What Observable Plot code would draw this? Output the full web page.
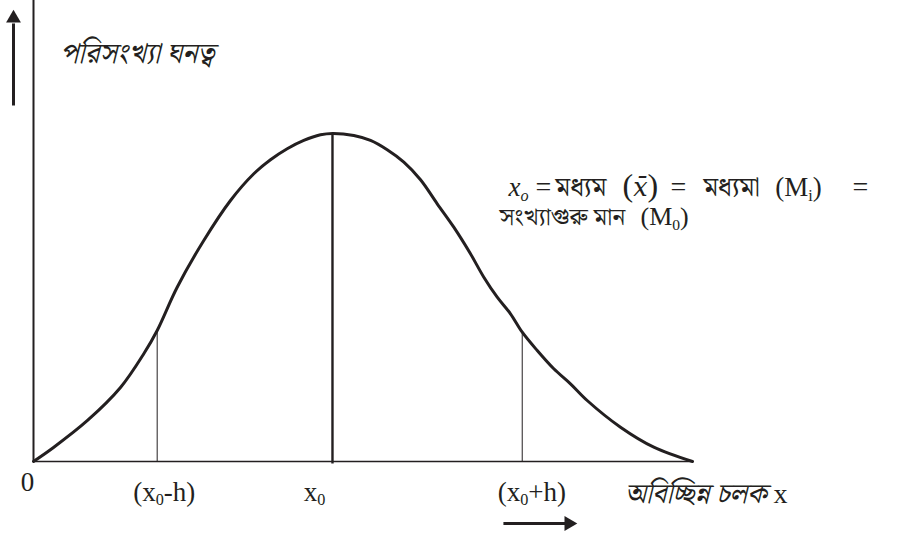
<!DOCTYPE html>
<html><head><meta charset="utf-8">
<script src="https://cdn.jsdelivr.net/npm/d3@7"></script>
<script src="https://cdn.jsdelivr.net/npm/@observablehq/plot@0.6"></script>
<style>body{margin:0;background:#fff;} svg{display:block}</style>
</head><body><div id="chart"></div>
<script>
// Bell curve, x: 0..100 along the baseline, y: peak = 100
const curveX = [0, 3.03, 8.18, 13.18, 16.71, 18.74, 21.77, 25.80, 29.85, 33.38, 35.91, 38.44, 40.95, 43.48, 45.3, 48.53, 51.06, 53.59, 56.11, 58.64, 61.17, 63.68, 66.21, 68.23, 70.26, 72.27, 74.05, 76.32, 78.83, 81.36, 83.89, 88.94, 93.98, 99.85];
const curveY = [0, 4.27, 12.50, 22.55, 32.83, 39.93, 53.12, 67.36, 79.55, 87.69, 91.95, 95.31, 97.84, 99.57, 100, 99.36, 97.84, 95.00, 91.22, 85.86, 78.54, 71.41, 63.30, 56.17, 50.08, 45.02, 39.41, 33.83, 28.25, 23.68, 18.59, 10.45, 4.36, 0];
// ordinates at x0-h, x0, x0+h
const refX = [18.74, 45.3, 74.05];
const refY = [39.93, 100, 39.41];
// tick labels ("_" = subscript)
const tickLabels = ["0", "(x_0-h)", "x_0", "(x_0+h)"];
const tickX = [-0.9, 19.8, 42.6, 75.5];
// titles ("/" toggles italic, "~" toggles the mean bar)
const yTitle = "/পরিসংখ্যা ঘনত্ব/";
const xTitle = "/অবিচ্ছিন্ন চলক/ x";
// annotation pieces
const noteLine1 = ["/x_o/", "=", "মধ্যম", "(/~x~/)", "=", "মধ্যমা", "(M_i)", "="];
const noteLine2 = ["সংখ্যাগুরু মান", "(M_0)"];

const ink = "#231f20";
const serif = "'Liberation Serif', 'Noto Serif Bengali', 'Noto Sans Bengali', 'Lohit Bengali', serif";

const curve = curveX.map((x, i) => ({x, y: curveY[i]}));
const refs = refX.map((x, i) => ({x, y: refY[i], center: i === 1}));

const plot = Plot.plot({
  width: 909,
  height: 535,
  marginLeft: 33,
  marginRight: 216,
  marginTop: 0,
  marginBottom: 74,
  x: {domain: [0, 100], axis: null},
  y: {domain: [0, 140.5], axis: null},
  style: {background: "#fff", overflow: "visible"},
  marks: [
    // axes lines
    Plot.ruleX([0], {y1: 0, y2: 140.5, stroke: ink, strokeWidth: 2}),
    Plot.ruleY([0], {x1: 0, x2: 100, stroke: ink, strokeWidth: 1.6}),
    // ordinates
    Plot.ruleX(refs.filter(d => !d.center), {x: "x", y1: 0, y2: "y", stroke: ink, strokeWidth: 1}),
    Plot.ruleX(refs.filter(d => d.center), {x: "x", y1: -0.8, y2: "y", stroke: ink, strokeWidth: 2.4}),
    // curve
    Plot.line(curve, {x: "x", y: "y", curve: "catmull-rom", stroke: ink, strokeWidth: 3}),
    // arrows
    Plot.link([{x: -3.03, y1: 108.5, y2: 133.5}], {x1: "x", x2: "x", y1: "y1", y2: "y2", stroke: ink, strokeWidth: 3}),
    Plot.dot([{x: -3.03, y: 135.1}], {x: "x", y: "y", symbol: "triangle", r: 5.5, fill: ink, stroke: null}),
    Plot.link([{x1: 71.2, x2: 80.6, y: -18.9}], {x1: "x1", x2: "x2", y1: "y", y2: "y", stroke: ink, strokeWidth: 3}),
    Plot.dot([{x: 81.1, y: -18.9}], {x: "x", y: "y", symbol: "triangle", rotate: 90, r: 5.5, fill: ink, stroke: null}),
    // tick labels
    Plot.text(tickLabels, {x: tickX, y: [-9.1, -11.9, -11.9, -11.9], text: d => d, textAnchor: "middle", lineAnchor: "bottom", fontSize: 27, fontFamily: serif, fill: ink}),
    // titles
    Plot.text([yTitle], {x: [4.0], y: [121.6], text: d => d, textAnchor: "start", lineAnchor: "bottom", fontSize: 29, fontFamily: serif, fill: ink}),
    Plot.text([xTitle], {x: [89.6], y: [-12.8], text: d => d, textAnchor: "start", lineAnchor: "bottom", fontSize: 28, fontFamily: serif, fill: ink}),
    // note, line 1
    Plot.text(noteLine1, {
      x: [71.97, 76.06, 79.09, 89.24, 96.5, 101.5, 112.4, 124.1],
      y: () => 80.8,
      text: d => d,
      fontSize: [27, 28, 27, 32, 28, 27, 27, 28],
      textAnchor: "start", lineAnchor: "bottom", fontFamily: serif, fill: ink
    }),
    // note, line 2
    Plot.text(noteLine2, {
      x: [70.6, 91.97],
      y: () => 72.1,
      text: d => d,
      fontSize: [24.5, 26],
      textAnchor: "start", lineAnchor: "bottom", fontFamily: serif, fill: ink
    })
  ]
});

document.getElementById("chart").appendChild(plot);

// rich text: "_c" -> subscript c, "/" toggles italic, "~" toggles a macron (mean bar)
function richify(svg) {
  svg.querySelectorAll("text").forEach(t => {
    const s = t.textContent;
    if (!/[_\/~]/.test(s)) return;
    const fs = parseFloat(getComputedStyle(t).fontSize) || 20;
    const segs = [];
    let italic = false, over = false, buf = "";
    const push = (txt, sub) => { if (txt) segs.push({txt, sub, italic, over}); };
    for (let i = 0; i < s.length; i++) {
      const c = s[i];
      if (c === "/") { push(buf, false); buf = ""; italic = !italic; }
      else if (c === "~") { push(buf, false); buf = ""; over = !over; }
      else if (c === "_") { push(buf, false); buf = ""; push(s[i + 1], true); i++; }
      else buf += c;
    }
    push(buf, false);
    while (t.firstChild) t.removeChild(t.firstChild);
    let shifted = 0;
    for (const seg of segs) {
      const ts = document.createElementNS("http://www.w3.org/2000/svg", "tspan");
      ts.textContent = seg.over ? seg.txt + "\u0304" : seg.txt;
      const want = seg.sub ? fs * 0.18 : 0;
      if (want !== shifted) { ts.setAttribute("dy", want - shifted); shifted = want; }
      if (seg.sub) ts.setAttribute("font-size", fs * 0.6);
      if (seg.italic) ts.setAttribute("font-style", "italic");
      if (seg.over) { ts.setAttribute("font-family", "'DejaVu Serif'"); ts.setAttribute("font-size", fs * 0.8); }
      t.appendChild(ts);
    }
  });
}
richify(plot);
</script>
</body></html>
